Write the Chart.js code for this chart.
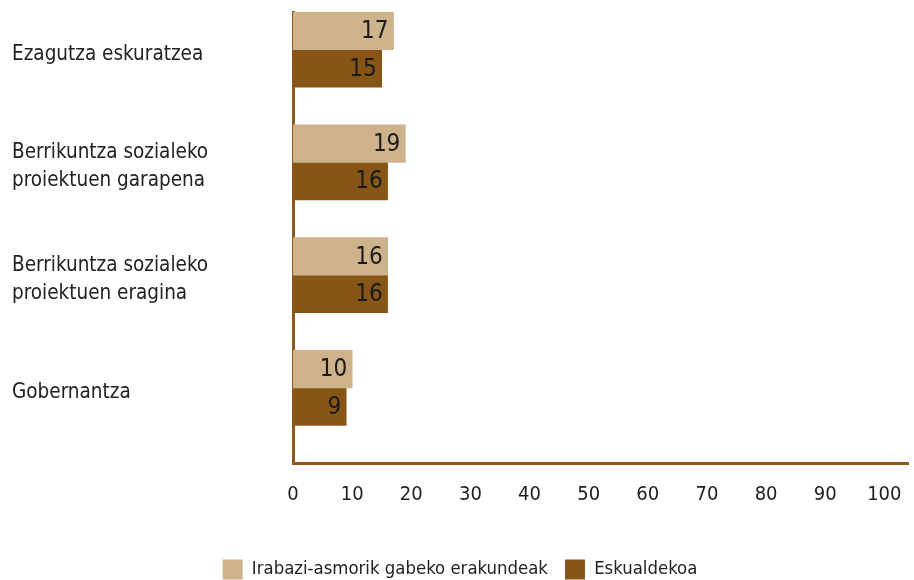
<!DOCTYPE html>
<html>
<head>
<meta charset="utf-8">
<script src="https://cdn.jsdelivr.net/npm/chart.js@4/dist/chart.umd.min.js"></script>
<style>
  html, body { margin: 0; padding: 0; background: #fff; }
  #wrap { width: 914px; height: 580px; }
</style>
</head>
<body>
<div id="wrap"><canvas id="myChart" width="914" height="580"></canvas></div>
<script>
// datuak
const categories = [
  "Ezagutza eskuratzea",
  ["Berrikuntza sozialeko", "proiektuen garapena"],
  ["Berrikuntza sozialeko", "proiektuen eragina"],
  "Gobernantza",
];
const nonProfit = [17, 19, 16, 10];
const regional = [15, 16, 16, 9];
const seriesNames = ["Irabazi-asmorik gabeko erakundeak", "Eskualdekoa"];
const xTicks = [0, 10, 20, 30, 40, 50, 60, 70, 80, 90, 100];

const FONT = "'Liberation Sans Narrow', 'DejaVu Sans Condensed', 'Roboto', sans-serif";
const TAN = "#cdb28b";
const BROWN = "#875617";
const AXIS = "#8c5a1e";

// balioak barren barruan idazteko
const valueLabels = {
  id: "valueLabels",
  afterDatasetsDraw(chart) {
    const ctx = chart.ctx;
    ctx.save();
    ctx.font = "24px " + FONT;
    ctx.fillStyle = "#1a1a1a";
    ctx.textAlign = "right";
    ctx.textBaseline = "middle";
    [0, 1].forEach(i => {
      const meta = chart.getDatasetMeta(i);
      meta.data.forEach((bar, j) => {
        const v = chart.data.datasets[i].data[j];
        if (v == null) return;
        ctx.fillText(String(v), bar.x - 5, bar.y + 1);
      });
    });
    ctx.restore();
  },
};

window.addEventListener("DOMContentLoaded", () => {
  const ctx = document.getElementById("myChart").getContext("2d");
  new Chart(ctx, {
    type: "bar",
    data: {
      labels: categories,
      datasets: [
        { label: seriesNames[0], data: nonProfit, backgroundColor: TAN },
        { label: seriesNames[1], data: regional, backgroundColor: BROWN },
        // hutsik, tartea uzteko bakarrik
        { label: "", data: categories.map(() => null), backgroundColor: "rgba(0,0,0,0)" },
      ],
    },
    options: {
      indexAxis: "y",
      responsive: false,
      animation: false,
      datasets: { bar: { categoryPercentage: 1, barPercentage: 1 } },
      layout: { padding: { left: 12, right: 6, top: 12, bottom: -9.5 } },
      scales: {
        x: {
          min: 0,
          max: 104,
          afterBuildTicks: (scale) => { scale.ticks = xTicks.map(v => ({ value: v })); },
          grid: { display: false, drawTicks: false },
          border: { color: AXIS, width: 3 },
          ticks: { color: "#222", padding: 20, font: { family: FONT, size: 20 } },
          afterFit: (scale) => {
            scale.height = 79.5;
            scale.paddingLeft = 0;
            scale.paddingRight = 0;
          },
        },
        y: {
          grid: { display: false, drawTicks: false },
          border: { color: AXIS, width: 3 },
          ticks: {
            color: "#222",
            crossAlign: "far",
            padding: 10,
            labelOffset: -14,
            font: { family: FONT, size: 20.5, lineHeight: 1.37 },
          },
          afterFit: (scale) => {
            scale.width = 281;
            scale.paddingTop = 0;
            scale.paddingBottom = 0;
          },
        },
      },
      plugins: {
        legend: {
          position: "bottom",
          labels: {
            filter: (item) => item.datasetIndex < 2,
            boxWidth: 20,
            boxHeight: 20,
            padding: 17,
            color: "#222",
            font: { family: FONT, size: 18.4 },
          },
        },
        tooltip: { enabled: false },
      },
    },
    plugins: [valueLabels],
  });
});
</script>
</body>
</html>
